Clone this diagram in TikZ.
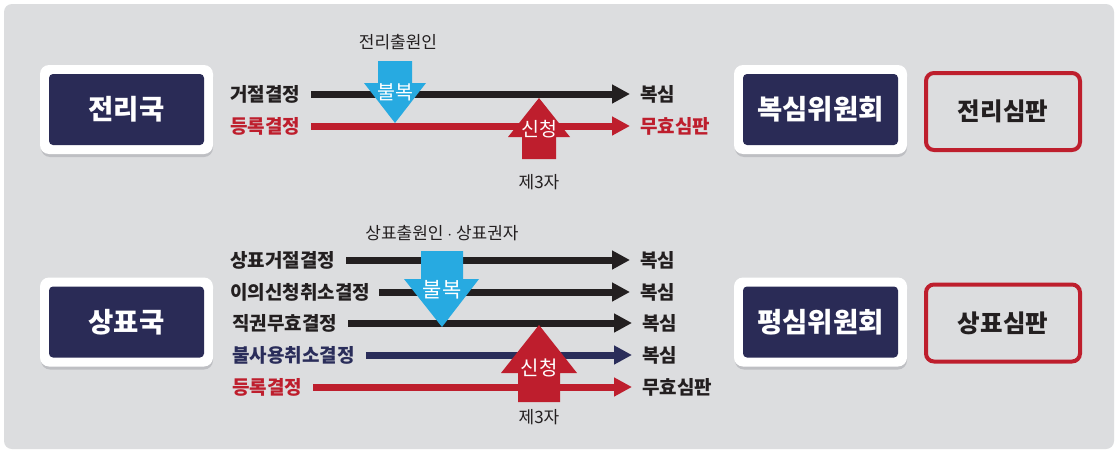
\documentclass[tikz,border=0pt]{standalone}
\usepackage{fontspec}
\setmainfont{Noto Sans CJK KR}
\usetikzlibrary{arrows.meta}
\definecolor{bggray}{RGB}{220,221,223}
\definecolor{navy}{RGB}{42,43,86}
\definecolor{navyline}{RGB}{42,45,90}
\definecolor{kred}{RGB}{190,30,45}
\definecolor{kblue}{RGB}{39,170,225}
\definecolor{kblack}{RGB}{35,31,32}
\definecolor{shadowgray}{RGB}{190,191,195}
\tikzset{
  outerbox/.style={fill=white, rounded corners=9pt, minimum width=173pt, minimum height=89pt, inner sep=0pt},
  innerbox/.style={fill=navy, rounded corners=4pt, minimum width=155pt, minimum height=71pt, inner sep=0pt, text=white, font=\fontsize{27.5pt}{29pt}\selectfont\bfseries},
  redbox/.style={draw=kred, line width=4pt, rounded corners=8pt, minimum width=154pt, minimum height=77pt, inner sep=0pt, text=kblack, font=\fontsize{24.5pt}{26pt}\selectfont\bfseries},
  lbl/.style={anchor=west, inner sep=0pt, font=\fontsize{19pt}{21pt}\selectfont\bfseries},
  note/.style={inner sep=0pt, text=kblack, font=\fontsize{17pt}{19pt}\selectfont},
  arrtext/.style={inner sep=0pt, text=white, font=\fontsize{19.5pt}{21pt}\selectfont},
  flow/.style={line width=7pt, -{Triangle[length=18pt,width=18pt]}},
}
\begin{document}
\begin{tikzpicture}[x=1pt,y=-1pt]
\useasboundingbox (0,0) rectangle (1120,450);
\fill[white] (0,0) rectangle (1120,450);
\fill[bggray, rounded corners=8pt] (4,4) rectangle (1114,449);

% ---------- top section ----------
\fill[shadowgray, rounded corners=9pt] (41,68) rectangle (213,157);
\node[outerbox] (ob1) at (126.5,109.5) {};
\node[innerbox] (jl) at (ob1) {전리국};
\fill[shadowgray, rounded corners=9pt] (735,68) rectangle (907,157);
\node[outerbox] (ob2) at (820.5,109.5) {};
\node[innerbox] (bs) at (ob2) {복심위원회};
\node[redbox] (jsp) at (1003,111.5) {전리심판};

\node[lbl, text=kblack] (t1) at (230,94) {거절결정};
\node[lbl, text=kred] (t2) at (230,126) {등록결정};
\node[lbl, text=kblack] (r1) at (640,94) {복심};
\node[lbl, text=kred] (r2) at (640,126) {무효심판};
\draw[flow, kblack] ([xshift=11pt]t1.east) -- ([xshift=-10pt]r1.west);
\draw[flow, kred] ([xshift=11pt]t2.east) -- ([xshift=-10pt]r2.west);

\fill[kblue] (378,61) -- (412,61) -- (412,83) -- (426,83) -- (395,123) -- (364,83) -- (378,83) -- cycle;
\node[arrtext] (bb1) at (395,92) {불복};
\fill[kred] (522,159) -- (556,159) -- (556,137) -- (570,137) -- (539,98) -- (508,137) -- (522,137) -- cycle;
\node[arrtext] (sc1) at (539,129) {신청};
\node[note] (n1) at (398,42) {전리출원인};
\node[note] (n2) at (539,182) {제3자};

% ---------- bottom section ----------
\fill[shadowgray, rounded corners=9pt] (41,280.5) rectangle (213,369.5);
\node[outerbox] (ob3) at (126.5,322) {};
\node[innerbox] (sp) at (ob3) {상표국};
\fill[shadowgray, rounded corners=9pt] (735,280.5) rectangle (907,369.5);
\node[outerbox] (ob4) at (820.5,322) {};
\node[innerbox] (ps) at (ob4) {평심위원회};
\node[redbox] (ssp) at (1003,323) {상표심판};

\node[lbl, text=kblack] (u1) at (230,260) {상표거절결정};
\node[lbl, text=kblack] (u2) at (230,292) {이의신청취소결정};
\node[lbl, text=kblack] (u3) at (232,323) {직권무효결정};
\node[lbl, text=navyline] (u4) at (232,355) {불사용취소결정};
\node[lbl, text=kred] (u5) at (232,387) {등록결정};
\node[lbl, text=kblack] (v1) at (640,260) {복심};
\node[lbl, text=kblack] (v2) at (640,292) {복심};
\node[lbl, text=kblack] (v3) at (642,323) {복심};
\node[lbl, text=kblack] (v4) at (642,355) {복심};
\node[lbl, text=kblack] (v5) at (642,387) {무효심판};
\draw[flow, kblack] ([xshift=11pt]u1.east) -- ([xshift=-10pt]v1.west);
\draw[flow, kblack] ([xshift=9pt]u2.east) -- ([xshift=-10pt]v2.west);
\draw[flow, kblack] ([xshift=11pt]u3.east) -- ([xshift=-10pt]v3.west);
\draw[flow, navyline] ([xshift=11pt]u4.east) -- ([xshift=-10pt]v4.west);
\draw[flow, kred] ([xshift=11pt]u5.east) -- ([xshift=-10pt]v5.west);

\fill[kblue] (421,251) -- (463,251) -- (463,279) -- (479,279) -- (442,327) -- (404,279) -- (421,279) -- cycle;
\node[arrtext, font=\fontsize{21pt}{23pt}\selectfont] (bb2) at (442,290) {불복};
\fill[kred] (518,402) -- (560,402) -- (560,373) -- (577,373) -- (539,325) -- (501,373) -- (518,373) -- cycle;
\node[arrtext, font=\fontsize{20pt}{22pt}\selectfont] (sc2) at (539,368) {신청};
\node[note] (n3) at (442,233) {상표출원인 $\cdot$ 상표권자};
\node[note] (n4) at (539,417) {제3자};
\end{tikzpicture}
\end{document}
